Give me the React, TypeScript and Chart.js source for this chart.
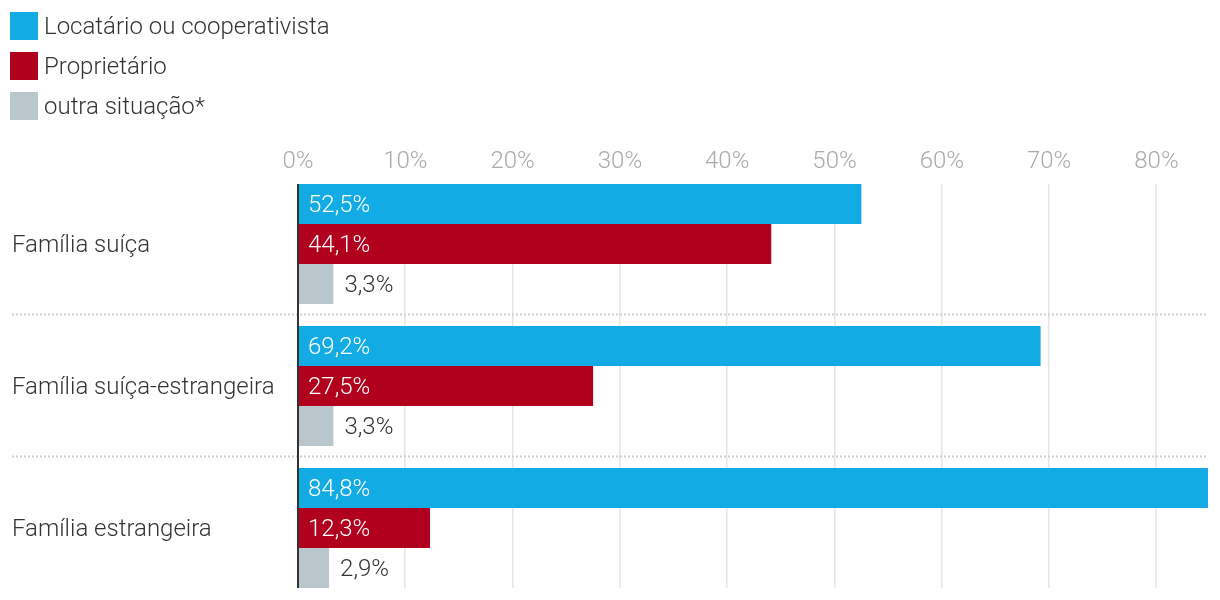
import React, { useEffect, useRef } from "react";
import { Chart, registerables } from "chart.js";

Chart.register(...registerables);

const categories = ["Família suíça", "Família suíça-estrangeira", "Família estrangeira"];
const seriesNames = ["Locatário ou cooperativista", "Proprietário", "outra situação*"];
const locatario = [52.5, 69.2, 84.8];
const proprietario = [44.1, 27.5, 12.3];
const outra = [3.3, 3.3, 2.9];
const tickValues = [0, 10, 20, 30, 40, 50, 60, 70, 80];
const colors = ["#13abe3", "#b0001e", "#b9c6cb"];
const labelInside = [true, true, false];

const FONT = "300 24px Roboto";
const fmt = (v: number) => v.toFixed(1).replace(".", ",") + "%";

const drawPlugin = {
  id: "customDraw",
  beforeDatasetsDraw(chart: any) {
    const ctx = chart.ctx;
    const x = chart.scales.x;
    const y = chart.scales.y;
    const half = 60;
    const top = y.getPixelForValue(0) - half;
    const bottom = y.getPixelForValue(categories.length - 1) + half;
    ctx.save();
    ctx.strokeStyle = "#e6e6e6";
    ctx.lineWidth = 1.5;
    tickValues.forEach((t) => {
      if (t === 0) return;
      const px = Math.round(x.getPixelForValue(t)) - 0.25;
      ctx.beginPath();
      ctx.moveTo(px, top);
      ctx.lineTo(px, bottom);
      ctx.stroke();
    });
    // separators
    ctx.strokeStyle = "#cfcfcf";
    ctx.lineWidth = 2;
    ctx.setLineDash([2, 2]);
    for (let i = 0; i < categories.length - 1; i++) {
      const py = (y.getPixelForValue(i) + y.getPixelForValue(i + 1)) / 2 - 0.5;
      ctx.beginPath();
      ctx.moveTo(12, py);
      ctx.lineTo(chart.chartArea.right, py);
      ctx.stroke();
    }
    ctx.restore();
  },
  afterDatasetsDraw(chart: any) {
    const ctx = chart.ctx;
    const x = chart.scales.x;
    const y = chart.scales.y;
    const half = 60;
    const top = y.getPixelForValue(0) - half;
    const bottom = y.getPixelForValue(categories.length - 1) + half;
    ctx.save();
    // zero line
    ctx.strokeStyle = "#333333";
    ctx.lineWidth = 2;
    const zx = x.getPixelForValue(0);
    ctx.beginPath();
    ctx.moveTo(zx, top);
    ctx.lineTo(zx, bottom);
    ctx.stroke();

    ctx.font = FONT;
    ctx.textBaseline = "middle";
    // value labels
    chart.data.datasets.forEach((ds: any, di: number) => {
      const meta = chart.getDatasetMeta(di);
      meta.data.forEach((bar: any, i: number) => {
        const v = ds.data[i];
        if (labelInside[di]) {
          ctx.fillStyle = "#ffffff";
          ctx.textAlign = "left";
          ctx.fillText(fmt(v), zx + 10, bar.y + 2);
        } else {
          ctx.fillStyle = "#333333";
          ctx.textAlign = "left";
          ctx.fillText(fmt(v), bar.x + 11, bar.y + 2);
        }
      });
    });
    // tick labels
    ctx.fillStyle = "#aaaaaa";
    ctx.textAlign = "center";
    tickValues.forEach((t) => {
      ctx.fillText(t + "%", x.getPixelForValue(t), 162);
    });
    // category labels
    ctx.fillStyle = "#333333";
    ctx.textAlign = "left";
    categories.forEach((c, i) => {
      ctx.fillText(c, 12, y.getPixelForValue(i) + 2);
    });
    // legend
    seriesNames.forEach((n, i) => {
      const sy = 12 + i * 40;
      ctx.fillStyle = colors[i];
      ctx.fillRect(10, sy, 28, 28);
      ctx.fillStyle = "#333333";
      ctx.fillText(n, 44, sy + 16);
    });
    ctx.restore();
  },
};

export default function App() {
  const ref = useRef<HTMLCanvasElement | null>(null);
  useEffect(() => {
    if (!ref.current) return;
    const chart = new Chart(ref.current, {
      type: "bar",
      data: {
        labels: categories,
        datasets: [
          { label: seriesNames[0], data: locatario, backgroundColor: colors[0] },
          { label: seriesNames[1], data: proprietario, backgroundColor: colors[1] },
          { label: seriesNames[2], data: outra, backgroundColor: colors[2] },
        ],
      },
      options: {
        indexAxis: "y",
        animation: false,
        responsive: false,
        maintainAspectRatio: false,
        devicePixelRatio: 1,
        layout: { padding: { left: 298, right: 12, top: 173, bottom: 1 } },
        datasets: { bar: { categoryPercentage: 120 / 142, barPercentage: 1, borderWidth: 0 } },
        scales: {
          x: { type: "linear", min: 0, max: 84.8, display: false },
          y: { type: "category", display: false, offset: true },
        },
        plugins: { legend: { display: false }, tooltip: { enabled: false } },
      } as any,
      plugins: [drawPlugin],
    });
    return () => chart.destroy();
  }, []);
  return (
    <div style={{ position: "fixed", left: 0, top: 0, width: 1220, height: 600, background: "#fff" }}>
      <canvas ref={ref} width={1220} height={600} style={{ width: 1220, height: 600, display: "block" }} />
    </div>
  );
}
